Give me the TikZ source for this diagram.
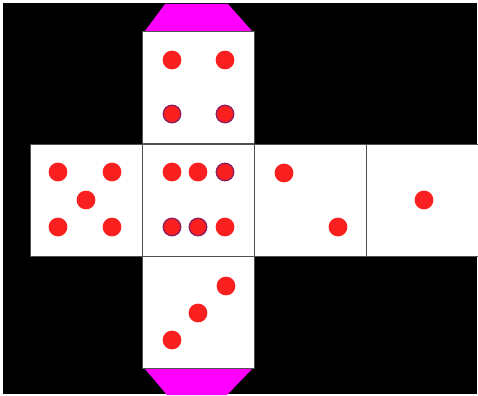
\documentclass[tikz,border=0pt]{standalone}
\usepackage{tikz}
\usetikzlibrary{positioning,calc}
\definecolor{PipRed}{RGB}{250,32,32}
\definecolor{PipRing}{RGB}{135,30,100}
\definecolor{Flap}{RGB}{255,0,255}
\definecolor{EdgeGray}{RGB}{80,80,80}
\tikzset{
  face/.style={rectangle,draw=EdgeGray,line width=0.5pt,fill=white,minimum size=56pt,inner sep=0pt},
  pip/.style={circle,fill=PipRed,minimum size=9.4pt,inner sep=0pt},
  pipring/.style={pip,draw=PipRing,line width=0.6pt,minimum size=8.8pt},
  flap/.style={fill=Flap}
}

\begin{document}
\begin{tikzpicture}[x=0.5pt,y=-0.5pt]
\useasboundingbox[fill=white] (0,0) rectangle (478,396);
\fill[black] (3,3) rectangle (477,394);
% flaps
\fill[flap] (145,31) -- (165,4) -- (228,4) -- (252,31) -- cycle;
\fill[flap] (145,369) -- (167,395) -- (227,395) -- (252,369) -- cycle;
% faces of the net
\node[face] (top) at (198,87) {};
\node[face] (centre) at (198,200) {};
\node[face] (left) at (86,200) {};
\node[face] (right) at (310,200) {};
\node[face,minimum width=57pt] (far) at (423,200) {};
\node[face] (bottom) at (198,312) {};
% top face: four
\node[pip] (t1) at (172,60) {};
\node[pip] (t2) at (225,60) {};
\node[pipring] (t3) at (172,114) {};
\node[pipring] (t4) at (225,114) {};
% centre face: six
\node[pip] (c1) at (172,172) {};
\node[pip] (c2) at (198,172) {};
\node[pipring] (c3) at (225,172) {};
\node[pipring] (c4) at (172,227) {};
\node[pipring] (c5) at (198,227) {};
\node[pip] (c6) at (225,227) {};
% left face: five
\node[pip] (l1) at (58,172) {};
\node[pip] (l2) at (112,172) {};
\node[pip] (l3) at (86,200) {};
\node[pip] (l4) at (58,227) {};
\node[pip] (l5) at (112,227) {};
% right face: two
\node[pip] (r1) at (284,173) {};
\node[pip] (r2) at (338,227) {};
% far face: one
\node[pip] (f1) at (424,200) {};
% bottom face: three
\node[pip] (b1) at (172,340) {};
\node[pip] (b2) at (198,313) {};
\node[pip] (b3) at (226,286) {};
\end{tikzpicture}
\end{document}
